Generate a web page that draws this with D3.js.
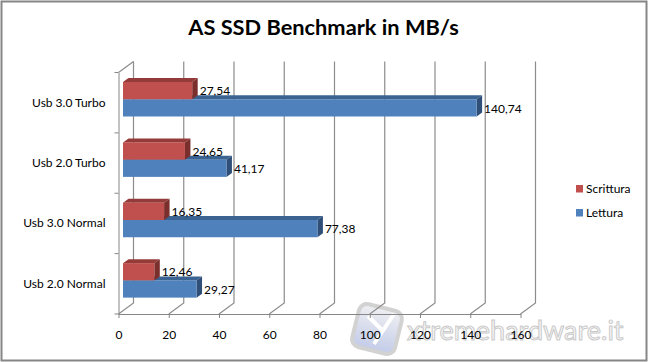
<!DOCTYPE html>
<html>
<head>
<meta charset="utf-8">
<script src="https://cdn.jsdelivr.net/npm/d3@7"></script>
<style>
html, body { margin: 0; padding: 0; background: #fff; }
svg { display: block; }
text { font-family: Lato, "Open Sans", sans-serif; fill: #000; }
</style>
</head>
<body>
<div id="chart"></div>
<script>
const categories = ["Usb 3.0 Turbo", "Usb 2.0 Turbo", "Usb 3.0 Normal", "Usb 2.0 Normal"];
const scrittura = [27.54, 24.65, 16.35, 12.46];
const lettura = [140.74, 41.17, 77.38, 29.27];
const xTicks = [0, 20, 40, 60, 80, 100, 120, 140, 160];

const width = 648, height = 362;
const margin = {top: 72.5, right: 127.5, bottom: 48, left: 118.5};
const wall = {dx: 15, dy: -11};   // back wall offset
const bar = {dx: 5.5, dy: -4, inset: 4.5};
const fmt = d3.formatLocale({decimal: ",", thousands: ".", grouping: [3], currency: ["", ""]}).format(".2f");

const svg = d3.select("#chart").append("svg")
    .attr("width", width).attr("height", height);

const x = d3.scaleLinear().domain([0, 160])
    .range([margin.left, width - margin.right]);
const y = d3.scaleBand().domain(categories)
    .range([margin.top, height - margin.bottom]);
const rows = d3.scaleBand().domain(["scrittura", "lettura"])
    .range([9.5, 44]);
const bottom = y.range()[1];

svg.append("rect").attr("x", 1.5).attr("y", 1.5)
    .attr("width", width - 3).attr("height", height - 3)
    .attr("fill", "#fff").attr("stroke", "#868686").attr("stroke-width", 2);

// watermark sits under the chart
const defs = svg.append("defs");
const grad = defs.append("linearGradient").attr("id", "wmFill")
    .attr("x1", 0).attr("y1", 0).attr("x2", 0).attr("y2", 1);
grad.append("stop").attr("offset", 0).attr("stop-color", "#ececef");
grad.append("stop").attr("offset", 1).attr("stop-color", "#b4bfe4");
const wm = svg.append("g").attr("opacity", 0.8);
wm.append("rect").attr("x", 355).attr("y", 307).attr("width", 44).attr("height", 44).attr("rx", 8)
    .attr("transform", "rotate(14 377 329)")
    .attr("fill", "url(#wmFill)").attr("stroke", "#c8c8c8").attr("stroke-width", 4);
wm.append("path").attr("fill", "none").attr("stroke", "#fff").attr("stroke-width", 4)
    .attr("d", "M368,316L384,332M394,314L374,344");
wm.append("text").attr("x", 407).attr("y", 340).attr("font-size", 27).attr("font-family", "Open Sans")
    .style("fill", "#f7f7f7").attr("stroke", "#bdbdbd").attr("stroke-width", 1)
    .text("xtremehardware.it");

svg.append("text").attr("x", 323.5).attr("y", 35)
    .attr("text-anchor", "middle").attr("font-size", 21.8).attr("font-weight", "bold")
    .text("AS SSD Benchmark in MB/s");

// grid: floor diagonal + vertical on back wall
svg.append("g").selectAll("path").data(xTicks).join("path")
    .attr("fill", "none").attr("stroke", "#8c8c8c").attr("stroke-width", 1.2)
    .attr("d", d => `M${x(d)},${bottom}L${x(d) + wall.dx},${bottom + wall.dy}V${margin.top + wall.dy}`);

// left wall top edge
svg.append("path").attr("fill", "none").attr("stroke", "#8c8c8c").attr("stroke-width", 1.2)
    .attr("d", `M${x(0)},${margin.top}L${x(0) + wall.dx},${margin.top + wall.dy}`);

// x axis
const xAxis = svg.append("g").attr("transform", `translate(0,${bottom})`)
    .call(d3.axisBottom(x).tickValues(xTicks).tickSize(4).tickPadding(12).tickSizeOuter(0));
xAxis.selectAll("line,path").attr("stroke", "#868686");
xAxis.selectAll("text").attr("font-size", 12).attr("font-family", "Lato");

// y axis, ticks sit between the categories
const yAxis = svg.append("g").attr("transform", `translate(${x(0)},0)`)
    .call(d3.axisLeft(y).tickSize(0).tickPadding(13));
yAxis.select(".domain").attr("stroke", "#868686");
yAxis.selectAll("text").attr("font-size", 12).attr("font-family", "Lato");
yAxis.selectAll(".edge").data(categories.map(c => y(c)).concat(bottom)).join("line")
    .attr("class", "edge").attr("x1", -4).attr("x2", 0)
    .attr("y1", d => d).attr("y2", d => d).attr("stroke", "#868686");

function box(g, value, top, h, c) {
    const x0 = x(0) + bar.inset, x1 = x0 + (x(value) - x(0));
    const b = top + h;
    g.append("path").attr("fill", c.top)
        .attr("d", `M${x0},${top}L${x0 + bar.dx},${top + bar.dy}H${x1 + bar.dx}L${x1},${top}Z`);
    g.append("path").attr("fill", c.side)
        .attr("d", `M${x1},${top}L${x1 + bar.dx},${top + bar.dy}V${b + bar.dy}L${x1},${b}Z`);
    g.append("rect").attr("x", x0).attr("y", top).attr("width", x1 - x0).attr("height", h).attr("fill", c.front);
}

const red = {front: "#c0504d", top: "#943b39", side: "#7b2f2d"};
const blue = {front: "#4f81bd", top: "#3b6391", side: "#2f4f79"};

const bars = svg.append("g");
categories.forEach((c, i) => {
    const g = bars.append("g");
    const top = y(c);
    box(g, lettura[i], top + rows("lettura"), rows.bandwidth(), blue);
    box(g, scrittura[i], top + rows("scrittura"), rows.bandwidth(), red);
});

// data labels
const labels = svg.append("g").attr("font-size", 12).attr("font-family", "Lato");
function addLabels(vals, key) {
    labels.selectAll("text." + key).data(vals).join("text").attr("class", key)
        .attr("x", d => x(d) + bar.inset + bar.dx + 2)
        .attr("y", (d, i) => y(categories[i]) + rows(key) + rows.bandwidth() / 2 + 0.5)
        .attr("dy", "0.35em")
        .text(d => fmt(d));
}
addLabels(scrittura, "scrittura");
addLabels(lettura, "lettura");

// legend
const legendItems = [["Scrittura", red.front], ["Lettura", blue.front]];
const legend = svg.append("g").selectAll("g").data(legendItems).join("g")
    .attr("transform", (d, i) => `translate(576,${185 + i * 24})`);
legend.append("rect").attr("width", 7).attr("height", 7.5).attr("fill", d => d[1]);
legend.append("text").attr("x", 10).attr("y", 4).attr("dy", "0.35em")
    .attr("font-size", 12).text(d => d[0]);
</script>
</body>
</html>
